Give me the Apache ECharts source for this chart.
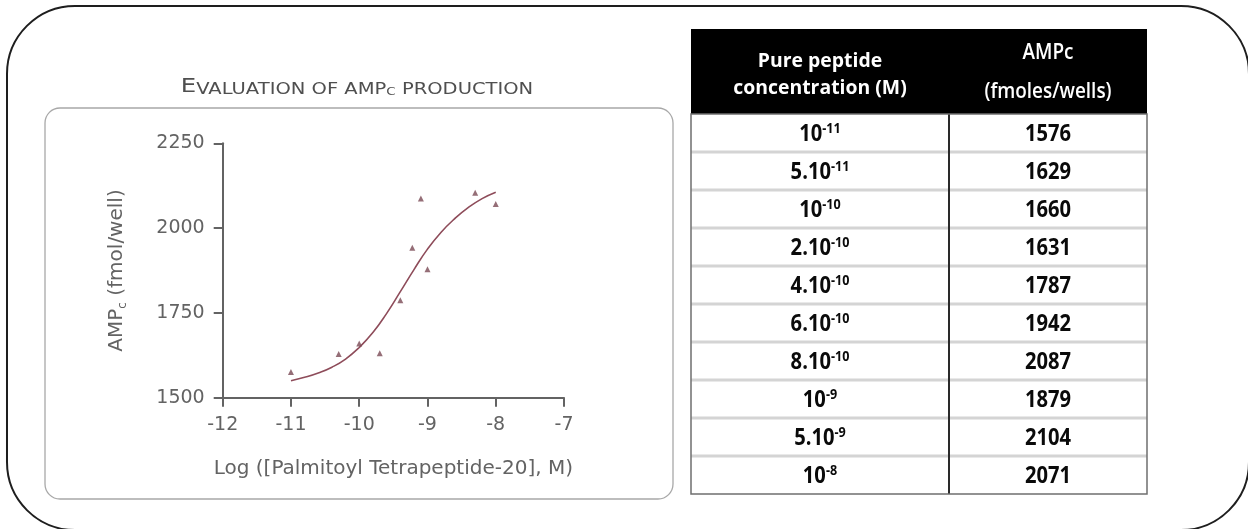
<!DOCTYPE html>
<html>
<head>
<meta charset="utf-8">
<script src="https://cdn.jsdelivr.net/npm/echarts@6/dist/echarts.min.js"></script>
<style>
  html, body { margin: 0; padding: 0; background: #ffffff; }
  #chart { width: 1248px; height: 529px; }
</style>
</head>
<body>
<div id="chart"></div>
<script>
// Peptide concentrations, written as mantissa x 10^exponent (mol/L)
const concMantissa = [1, 5, 1, 2, 4, 6, 8, 1, 5, 1];
const concExponent = [-11, -11, -10, -10, -10, -10, -10, -9, -9, -8];
// Measured cAMP for each concentration (fmol/well)
const campValues = [1576, 1629, 1660, 1631, 1787, 1942, 2087, 1879, 2104, 2071];

// Fitted dose-response curve, sampled along log concentration
const fitLogConc = [-11, -10.8, -10.6, -10.4, -10.2, -10, -9.8, -9.6, -9.4, -9.2, -9, -8.8, -8.6, -8.4, -8.2, -8];
const fitCamp = [1550, 1560, 1573, 1590, 1614, 1648, 1692, 1748, 1812, 1877, 1938, 1988, 2028, 2061, 2087, 2106];

// Axis ranges
const xRange = { min: -12, max: -7, step: 1 };
const yRange = { min: 1500, max: 2250, step: 250 };

// Table headings
const tableHeadLeft = ['Pure peptide', 'concentration (M)'];
const tableHeadRight = ['AMPc', '(fmoles/wells)'];

const chartFont = 'DejaVu Sans';
const tableFont = '"Open Sans", "Liberation Sans", sans-serif';
const grey = '#636363';

const logConc = concMantissa.map((m, i) => Math.log10(m) + concExponent[i]);
const scatterData = logConc.map((x, i) => [x, campValues[i]]);
const fitData = fitLogConc.map((x, i) => [x, fitCamp[i]]);

// ---- table drawn with graphic elements ----
const T = { left: 691, right: 1147, top: 29, headBottom: 114, rowH: 38, colDiv: 949 };
const tableEls = [];
const nRows = campValues.length;
const tBottom = T.headBottom + nRows * T.rowH;
const leftMid = (T.left + T.colDiv) / 2;
const rightMid = (T.colDiv + T.right) / 2;
const narrow = 0.84;

tableEls.push({
  type: 'rect', z: 10,
  shape: { x: T.left, y: T.top, width: T.right - T.left, height: T.headBottom - T.top },
  style: { fill: '#000000' }
});
tableEls.push({
  type: 'text', z: 11, x: leftMid, y: 75, scaleX: 0.97,
  style: {
    text: tableHeadLeft.join('\n'), fill: '#ffffff', align: 'center', verticalAlign: 'middle',
    font: 'bold 20px ' + tableFont, lineHeight: 27
  }
});
tableEls.push({
  type: 'text', z: 11, x: rightMid, y: 73, scaleX: 0.9,
  style: {
    text: tableHeadRight.join('\n'), fill: '#ffffff', align: 'center', verticalAlign: 'middle',
    font: '600 21px ' + tableFont, lineHeight: 39
  }
});
for (let i = 1; i < nRows; i++) {
  const y = T.headBottom + i * T.rowH;
  tableEls.push({
    type: 'line', z: 10,
    shape: { x1: T.left, y1: y, x2: T.right, y2: y },
    style: { stroke: '#d4d4d4', lineWidth: 3 }
  });
}
tableEls.push({
  type: 'line', z: 12,
  shape: { x1: T.colDiv, y1: T.headBottom, x2: T.colDiv, y2: tBottom },
  style: { stroke: '#2a2a2a', lineWidth: 2 }
});
tableEls.push({
  type: 'rect', z: 12,
  shape: { x: T.left, y: T.headBottom, width: T.right - T.left, height: tBottom - T.headBottom },
  style: { fill: null, stroke: '#6f6f6f', lineWidth: 1.5 }
});
for (let i = 0; i < nRows; i++) {
  const cy = T.headBottom + (i + 0.5) * T.rowH + 1;
  const base = concMantissa[i] === 1 ? '10' : concMantissa[i] + '.10';
  tableEls.push({
    type: 'text', z: 11, x: leftMid, y: cy, scaleX: narrow,
    style: {
      text: '{b|' + base + '}{s|' + concExponent[i] + '}',
      align: 'center', verticalAlign: 'middle',
      rich: {
        b: { font: 'bold 24px ' + tableFont, fill: '#0a0a0a', lineHeight: 26 },
        s: { font: 'bold 15px ' + tableFont, fill: '#0a0a0a', verticalAlign: 'top', lineHeight: 15 }
      }
    }
  });
  tableEls.push({
    type: 'text', z: 11, x: rightMid, y: cy, scaleX: narrow,
    style: {
      text: String(campValues[i]), fill: '#0a0a0a', align: 'center', verticalAlign: 'middle',
      font: 'bold 24px ' + tableFont
    }
  });
}

const chart = echarts.init(document.getElementById('chart'), null, { renderer: 'canvas' });

chart.setOption({
  backgroundColor: '#ffffff',
  animation: false,
  grid: { left: 222.7, right: 1248 - 564, top: 143.3, bottom: 529 - 397.7, containLabel: false },
  xAxis: {
    type: 'value', min: xRange.min, max: xRange.max, interval: xRange.step,
    name: 'Log ([Palmitoyl Tetrapeptide-20], M)',
    nameLocation: 'middle', nameGap: 61,
    nameTextStyle: { fontFamily: chartFont, fontSize: 20, color: grey },
    axisLine: { lineStyle: { color: grey, width: 2 } },
    axisTick: { length: 9, lineStyle: { color: grey, width: 2 } },
    axisLabel: { fontFamily: chartFont, fontSize: 19, color: grey, margin: 18, formatter: v => String(v) },
    splitLine: { show: false }
  },
  yAxis: {
    type: 'value', min: yRange.min, max: yRange.max, interval: yRange.step,
    name: '{n|AMP}{c|c}{n| (fmol/well)}',
    nameLocation: 'middle', nameGap: 94, nameRotate: 90,
    nameTextStyle: {
      color: grey,
      rich: {
        n: { fontFamily: chartFont, fontSize: 20, color: grey, lineHeight: 24 },
        c: { fontFamily: chartFont, fontSize: 12, color: grey, verticalAlign: 'bottom', lineHeight: 14 }
      }
    },
    axisLine: { show: true, lineStyle: { color: grey, width: 2 } },
    axisTick: { show: true, length: 9, lineStyle: { color: grey, width: 2 } },
    axisLabel: { fontFamily: chartFont, fontSize: 19, color: grey, margin: 18, formatter: v => String(v) },
    splitLine: { show: false }
  },
  series: [
    {
      name: 'fit', type: 'line', data: fitData, smooth: true, symbol: 'none',
      lineStyle: { color: '#8e4c5a', width: 1.6 }, z: 3
    },
    {
      name: 'cAMP', type: 'scatter', data: scatterData, symbol: 'triangle', symbolSize: 6,
      itemStyle: { color: '#7a4a55' }, z: 4
    }
  ],
  graphic: [
    // outer frame
    {
      type: 'rect', z: 1, silent: true,
      shape: { x: 7, y: 6, width: 1242, height: 524, r: 68 },
      style: { fill: null, stroke: '#1e1e1e', lineWidth: 2 }
    },
    // chart panel
    {
      type: 'rect', z: 1, silent: true,
      shape: { x: 45, y: 108, width: 628, height: 391, r: 15 },
      style: { fill: null, stroke: '#a8a8a8', lineWidth: 1.3 }
    },
    // chart heading in small capitals
    {
      type: 'text', z: 5, x: 357, y: 87, scaleX: 1.22,
      style: {
        text: '{L|E}{s|VALUATION OF AMP}{c|C}{s| PRODUCTION}',
        align: 'center', verticalAlign: 'middle',
        rich: {
          L: { fontFamily: chartFont, fontSize: 20, fill: '#4f4f4f', lineHeight: 22 },
          s: { fontFamily: chartFont, fontSize: 16, fill: '#4f4f4f', lineHeight: 22, verticalAlign: 'bottom' },
          c: { fontFamily: chartFont, fontSize: 11, fill: '#4f4f4f', lineHeight: 11, verticalAlign: 'bottom' }
        }
      }
    }
  ].concat(tableEls)
});
</script>
</body>
</html>
